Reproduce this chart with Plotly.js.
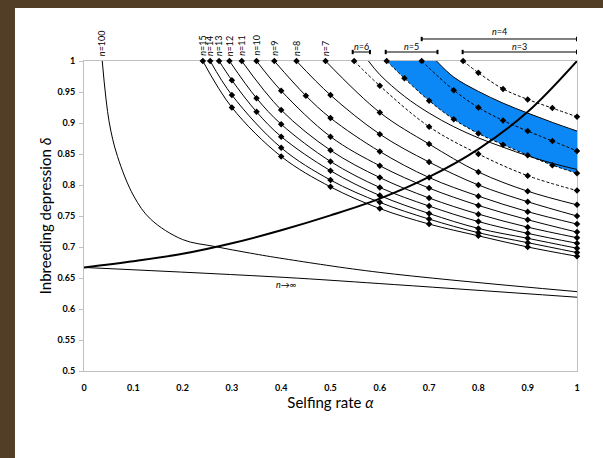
<!DOCTYPE html>
<html><head><meta charset="utf-8">
<script src="https://cdn.plot.ly/plotly-3.0.1.min.js"></script>
<style>html,body{margin:0;padding:0;background:#fff}</style>
</head><body><div id="chart" style="width:603px;height:458px"></div>
<script>
// ---------------- data ----------------
// selfing rate alpha (x) and inbreeding depression delta (y)
const n100Alpha = [0.037, 0.051, 0.068, 0.101, 0.135, 0.2, 0.264, 0.338, 0.406, 0.6, 1.0];
const n100Delta = [1.0, 0.902, 0.846, 0.782, 0.745, 0.712, 0.701, 0.690, 0.681, 0.659, 0.628];

const nInfAlpha = [0, 0.406, 0.6, 1.0];
const nInfDelta = [0.667, 0.651, 0.641, 0.619];

const boldAlpha = [0, 0.1, 0.2, 0.3, 0.4, 0.5, 0.6, 0.7, 0.8, 0.9, 1.0];
const boldDelta = [0.667, 0.677, 0.689, 0.706, 0.727, 0.751, 0.778, 0.813, 0.858, 0.918, 1.0];

// solid curves (with simulated points) for n = 7 ... 15
const n15Alpha = [0.241, 0.3, 0.4, 0.5, 0.6, 0.7, 0.8, 0.9, 1.0];
const n15Delta = [1, 0.925, 0.846, 0.797, 0.762, 0.737, 0.718, 0.700, 0.685];
const n14Alpha = [0.256, 0.3, 0.4, 0.5, 0.6, 0.7, 0.8, 0.9, 1.0];
const n14Delta = [1, 0.945, 0.860, 0.808, 0.772, 0.745, 0.723, 0.707, 0.691];
const n13Alpha = [0.274, 0.3, 0.35, 0.4, 0.5, 0.6, 0.7, 0.8, 0.9, 1.0];
const n13Delta = [1, 0.969, 0.918, 0.878, 0.823, 0.783, 0.754, 0.730, 0.714, 0.698];
const n12Alpha = [0.295, 0.35, 0.4, 0.5, 0.6, 0.7, 0.8, 0.9, 1.0];
const n12Delta = [1, 0.940, 0.898, 0.838, 0.796, 0.766, 0.741, 0.722, 0.706];
const n11Alpha = [0.32, 0.4, 0.5, 0.6, 0.7, 0.8, 0.9, 1.0];
const n11Delta = [1, 0.921, 0.856, 0.812, 0.779, 0.753, 0.732, 0.715];
const n10Alpha = [0.35, 0.4, 0.5, 0.6, 0.7, 0.8, 0.9, 1.0];
const n10Delta = [1, 0.952, 0.878, 0.831, 0.795, 0.767, 0.744, 0.724];
const n9Alpha = [0.386, 0.45, 0.5, 0.6, 0.7, 0.8, 0.9, 1.0];
const n9Delta = [1, 0.944, 0.908, 0.854, 0.812, 0.782, 0.757, 0.737];
const n8Alpha = [0.431, 0.5, 0.6, 0.7, 0.8, 0.9, 1.0];
const n8Delta = [1, 0.945, 0.882, 0.837, 0.800, 0.773, 0.750];
const n7Alpha = [0.49, 0.6, 0.7, 0.8, 0.9, 1.0];
const n7Delta = [1, 0.917, 0.866, 0.821, 0.790, 0.768];

// small n: dashed curves with simulated points, and solid analytic curves
const n6DashAlpha = [0.548, 0.6, 0.7, 0.8, 0.9, 1.0];
const n6DashDelta = [1, 0.960, 0.894, 0.850, 0.815, 0.791];
const n6SolidAlpha = [0.577, 0.6, 0.65, 0.7, 0.75, 0.8, 0.85, 0.9, 0.95, 1.0];
const n6SolidDelta = [1, 0.978, 0.943, 0.916, 0.894, 0.876, 0.861, 0.847, 0.835, 0.825];
const n5DashAlpha = [0.614, 0.65, 0.7, 0.75, 0.8, 0.85, 0.9, 0.95, 1.0];
const n5DashDelta = [1, 0.972, 0.936, 0.906, 0.883, 0.865, 0.848, 0.832, 0.819];
const n5SolidAlpha = [0.715, 0.75, 0.8, 0.85, 0.9, 0.95, 1.0];
const n5SolidDelta = [1, 0.974, 0.951, 0.932, 0.916, 0.901, 0.887];
const n4DashAlpha = [0.685, 0.75, 0.8, 0.85, 0.9, 0.95, 1.0];
const n4DashDelta = [1, 0.953, 0.925, 0.904, 0.887, 0.871, 0.855];
const n3DashAlpha = [0.769, 0.8, 0.85, 0.9, 0.95, 1.0];
const n3DashDelta = [1, 0.981, 0.955, 0.938, 0.924, 0.910];

// labels on top of the curves (start alpha of each curve)
const topLabels = ['100', '15', '14', '13', '12', '11', '10', '9', '8', '7'];
const topLabelAlpha = [0.037, 0.241, 0.256, 0.274, 0.295, 0.32, 0.35, 0.386, 0.431, 0.49];

// ranges of alpha at which the threshold starts (brackets)
const rangeLabels = ['6', '5', '4', '3'];
const rangeStart = [0.545, 0.612, 0.685, 0.768];
const rangeEnd = [0.58, 0.717, 1.0, 1.0];

const xTickVals = [0, 0.1, 0.2, 0.3, 0.4, 0.5, 0.6, 0.7, 0.8, 0.9, 1];
const yTickVals = [0.5, 0.55, 0.6, 0.65, 0.7, 0.75, 0.8, 0.85, 0.9, 0.95, 1];

// ---------------- styles / positions ----------------
const BLACK = '#000000';
const BLUE = '#0b88f5';
const FONT = 'Lato, "Open Sans", sans-serif';
const bracketLevel = [1.029, 1.029, 1.071, 1.029]; // paper
const bracketLabelY = [1.048, 1.048, 1.094, 1.048]; // paper
const tickHalf = 0.007; // paper

const traces = [];
// blue band (between n=5 dashed & solid)
traces.push({x: n5DashAlpha, y: n5DashDelta, mode: 'lines', line: {width: 0, shape: 'spline', color: BLUE}, hoverinfo: 'skip', showlegend: false});
traces.push({x: n5SolidAlpha, y: n5SolidDelta, mode: 'lines', fill: 'tonexty', fillcolor: BLUE, line: {width: 1, shape: 'spline', color: BLACK}, showlegend: false, cliponaxis: false});

function solid(x, y, markers, w) {
  traces.push({x, y, mode: markers ? 'lines+markers' : 'lines', cliponaxis: false,
    line: {color: BLACK, width: w || 1, shape: 'spline'},
    marker: {symbol: 'diamond', size: 5, color: BLACK}, showlegend: false});
}
function dashed(x, y) {
  traces.push({x, y, mode: 'lines+markers', cliponaxis: false,
    line: {color: BLACK, width: 1, dash: '3px,2px', shape: 'spline'},
    marker: {symbol: 'diamond', size: 5, color: BLACK}, showlegend: false});
}
solid(n100Alpha, n100Delta, false);
solid(nInfAlpha, nInfDelta, false);
solid(n15Alpha, n15Delta, true);
solid(n14Alpha, n14Delta, true);
solid(n13Alpha, n13Delta, true);
solid(n12Alpha, n12Delta, true);
solid(n11Alpha, n11Delta, true);
solid(n10Alpha, n10Delta, true);
solid(n9Alpha, n9Delta, true);
solid(n8Alpha, n8Delta, true);
solid(n7Alpha, n7Delta, true);
solid(n6SolidAlpha, n6SolidDelta, false);
dashed(n6DashAlpha, n6DashDelta);
dashed(n5DashAlpha, n5DashDelta);
dashed(n4DashAlpha, n4DashDelta);
dashed(n3DashAlpha, n3DashDelta);
solid(boldAlpha, boldDelta, false, 2);

const shapes = [{type: 'rect', xref: 'paper', yref: 'paper', x0: -0.14, x1: 1.1, y0: -0.35, y1: 1.171,
  fillcolor: '#ffffff', line: {width: 0}, layer: 'below'}];
// brackets
for (let i = 0; i < rangeLabels.length; i++) {
  const lv = bracketLevel[i];
  shapes.push({type: 'line', xref: 'x', yref: 'paper', x0: rangeStart[i], x1: rangeEnd[i], y0: lv, y1: lv,
    line: {color: BLACK, width: 1}});
  [rangeStart[i], rangeEnd[i]].forEach(function (xv) {
    shapes.push({type: 'line', xref: 'x', yref: 'paper', x0: xv, x1: xv, y0: lv - tickHalf, y1: lv + tickHalf,
      line: {color: BLACK, width: 2}});
  });
}

const annotations = [];
for (let i = 0; i < topLabels.length; i++) {
  annotations.push({x: topLabelAlpha[i], xref: 'x', y: 1.01, yref: 'paper', yanchor: 'bottom', xanchor: 'center',
    text: '<i>n</i>=' + topLabels[i], textangle: -90, showarrow: false,
    font: {family: FONT, size: 9, color: BLACK}});
}
for (let i = 0; i < rangeLabels.length; i++) {
  annotations.push({x: (rangeStart[i] + rangeEnd[i]) / 2, xref: 'x', y: bracketLabelY[i], yref: 'paper',
    yanchor: 'middle', xanchor: 'center', text: '<i>n</i>=' + rangeLabels[i], showarrow: false,
    font: {family: FONT, size: 9, color: BLACK}});
}
annotations.push({x: 0.41, xref: 'x', y: 0.639, yref: 'y', text: '<i>n</i>→∞', showarrow: false,
  font: {family: FONT, size: 9, color: BLACK}});

const layout = {
  width: 603, height: 458,
  margin: {l: 84, r: 26, t: 61, b: 87},
  paper_bgcolor: '#523d26', plot_bgcolor: '#ffffff',
  shapes: shapes,
  xaxis: {range: [0, 1], tickvals: xTickVals, showgrid: false, zeroline: false, showline: true, mirror: true,
    linecolor: '#c0c0c0', linewidth: 1, ticks: '', ticklabelstandoff: 8, layer: 'below traces',
    tickfont: {family: FONT, size: 9, color: BLACK, weight: 'bold'},
    title: {text: 'Selfing rate <i>α</i>', font: {family: FONT, size: 15, color: BLACK}, standoff: 5}},
  yaxis: {range: [0.5, 1], tickvals: yTickVals, showgrid: false, zeroline: false, showline: true, mirror: true,
    linecolor: '#c0c0c0', linewidth: 1, ticks: 'outside', ticklen: 4, tickcolor: '#c0c0c0', ticklabelstandoff: 2,
    layer: 'below traces',
    tickfont: {family: FONT, size: 9, color: BLACK, weight: 'bold'},
    title: {text: 'Inbreeding depression <i>δ</i>', font: {family: FONT, size: 15, color: BLACK}, standoff: 2}},
  annotations: annotations,
  showlegend: false
};
Plotly.newPlot('chart', traces, layout, {staticPlot: true});
</script></body></html>
